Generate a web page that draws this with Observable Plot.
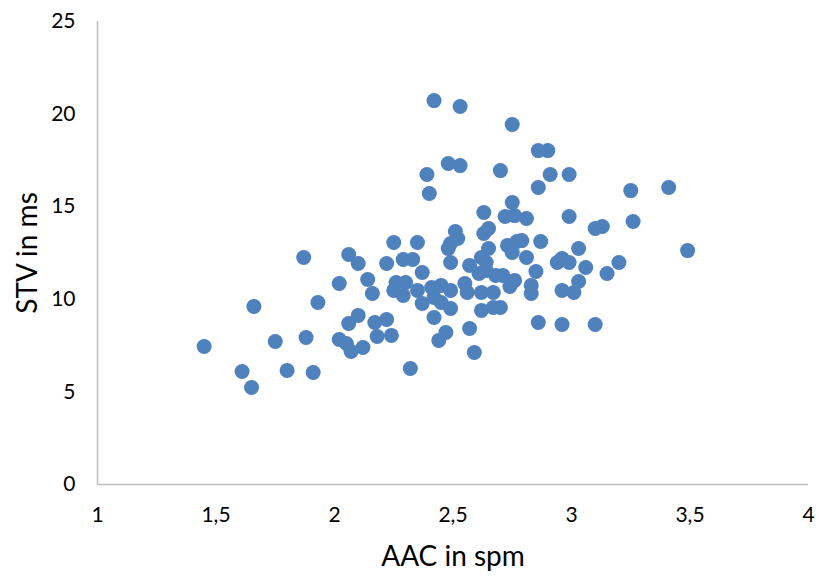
<!DOCTYPE html>
<html><head><meta charset="utf-8">
<script src="https://cdn.jsdelivr.net/npm/d3@7"></script>
<script src="https://cdn.jsdelivr.net/npm/@observablehq/plot@0.6"></script>
<style>body{margin:0;background:#fff;}</style>
</head><body><div id="chart"></div>
<script>
const aac = [1.45,1.61,1.65,1.66,1.75,1.80,1.87,1.88,1.91,1.93,2.02,2.02,2.05,2.06,2.06,2.07,2.10,2.10,2.12,2.14,2.16,2.17,2.18,2.22,2.24,2.22,2.25,2.35,2.29,2.33,2.37,2.26,2.30,2.25,2.29,2.35,2.41,2.45,2.49,2.37,2.42,2.45,2.49,2.42,2.55,2.56,2.62,2.62,2.57,2.47,2.44,2.32,2.59,2.57,2.61,2.51,2.52,2.49,2.48,2.49,2.63,2.63,2.65,2.65,2.62,2.64,2.64,2.68,2.67,2.67,2.72,2.76,2.81,2.75,2.73,2.77,2.79,2.87,2.75,2.81,2.85,2.71,2.76,2.74,2.83,2.83,2.70,2.86,2.96,3.10,2.94,2.96,2.99,3.03,3.06,3.20,3.15,3.03,3.01,2.96,2.99,3.10,3.13,3.26,3.49,3.25,3.41,2.99,2.91,2.86,2.86,2.90,2.75,2.70,2.42,2.53,2.48,2.53,2.39,2.40];
const stv = [7.45,6.10,5.24,9.61,7.72,6.16,12.26,7.94,6.05,9.83,10.85,7.83,7.61,12.42,8.69,7.18,11.93,9.13,7.40,11.07,10.31,8.75,7.99,8.91,8.05,11.93,13.07,13.07,12.15,12.15,11.45,10.91,10.91,10.48,10.21,10.48,10.64,10.75,10.48,9.77,10.10,9.83,9.50,9.02,10.85,10.37,10.37,9.40,8.42,8.21,7.78,6.26,7.13,11.83,11.39,13.66,13.28,13.01,12.74,11.99,14.69,13.55,13.82,12.74,12.26,11.99,11.56,11.29,10.37,9.56,14.47,14.52,14.36,15.23,12.91,13.12,13.17,13.12,12.53,12.26,11.50,11.29,11.02,10.69,10.75,10.31,9.56,8.75,8.64,8.64,11.99,12.20,11.99,12.74,11.72,11.99,11.39,10.96,10.37,10.48,14.47,13.82,13.93,14.20,12.63,15.87,16.04,16.74,16.74,16.04,18.03,18.03,19.44,16.95,20.73,20.41,17.33,17.22,16.74,15.71];
const xTicks = [1,1.5,2,2.5,3,3.5,4];
const yTicks = [0,5,10,15,20,25];
const xTitle = "AAC in spm";
const yTitle = "STV in ms";

const data = aac.map((x, i) => ({x, y: stv[i]}));
const fmt = d => String(d).replace(".", ",");

const chart = Plot.plot({
  width: 818, height: 578,
  marginLeft: 97, marginRight: 10, marginTop: 21, marginBottom: 94,
  style: {fontFamily: "Lato, sans-serif", background: "#fff", color: "#000"},
  x: {domain: [1, 4]},
  y: {domain: [0, 25]},
  marks: [
    Plot.ruleY([0], {stroke: "#bfbfbf", strokeWidth: 1.5}),
    Plot.ruleX([1], {stroke: "#bfbfbf", strokeWidth: 1.5}),
    Plot.axisX(xTicks, {tickSize: 0, tickPadding: 23, tickFormat: fmt, fontSize: 21, label: null, fill: "#000"}),
    Plot.axisY(yTicks, {tickSize: 0, tickPadding: 22, tickFormat: fmt, fontSize: 21, label: null, fill: "#000"}),
    Plot.text([xTitle], {frameAnchor: "bottom", dy: 73, lineAnchor: "middle", textAnchor: "middle", fontSize: 28, fill: "#000"}),
    Plot.text([yTitle], {frameAnchor: "left", dx: -69, textAnchor: "middle", lineAnchor: "middle", rotate: -90, fontSize: 28, fill: "#000"}),
    Plot.dot(data, {x: "x", y: "y", r: 7.5, fill: "#4f81bd"})
  ]
});
document.getElementById("chart").append(chart);
</script>
</body></html>
